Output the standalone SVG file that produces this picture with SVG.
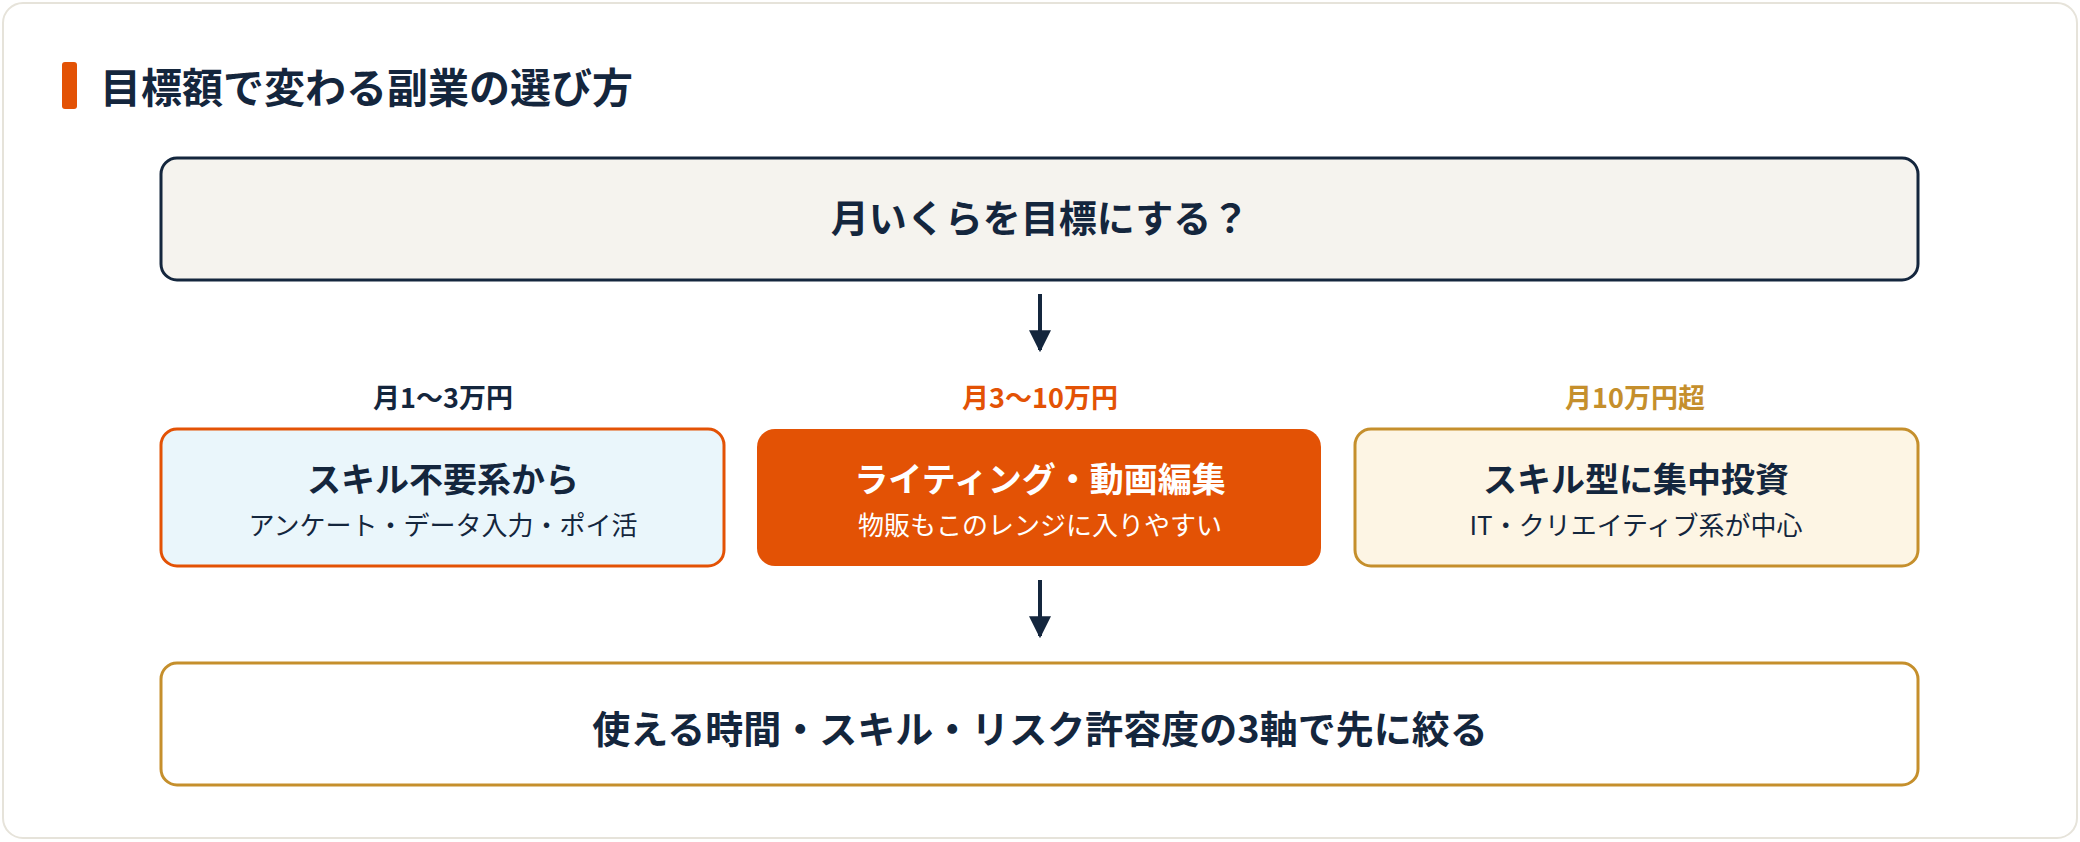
<svg xmlns="http://www.w3.org/2000/svg" width="2080" height="842" viewBox="0 0 2080 842">
<style>
text{font-family:"Noto Sans CJK JP","Noto Sans",sans-serif;text-anchor:middle}
.h{font-weight:700;fill:#14263d}
.t{font-size:38px;font-weight:700;fill:#14263d}
.b{font-size:34px;font-weight:700;fill:#14263d}
.s{font-size:26px;fill:#14263d}
.l{font-size:27px;font-weight:700}
.ln{stroke:#14263d;stroke-width:4;fill:none}
</style>
<defs><marker id="a" viewBox="0 0 10 10" refX="9" refY="5" markerWidth="22" markerHeight="26" markerUnits="userSpaceOnUse" orient="auto"><path d="M0,0L10,5L0,10z" fill="#14263d"/></marker></defs>
<rect x="3" y="3" width="2074" height="835" rx="20" fill="#fff" stroke="#e6e3da" stroke-width="2"/>
<g id="title"><rect x="62" y="62" width="15" height="47" rx="3" fill="#e35205"/><text x="100" y="103" class="h" font-size="41" style="text-anchor:start">目標額で変わる副業の選び方</text></g>
<g id="q"><rect x="161" y="158" width="1757" height="122" rx="16" fill="#f5f3ee" stroke="#14263d" stroke-width="3"/><text x="1040" y="232" class="t">月いくらを目標にする？</text></g>
<g id="labels"><text x="443" y="408" class="l" fill="#14263d">月1〜3万円</text><text x="1040" y="408" class="l" fill="#e35205">月3〜10万円</text><text x="1635" y="408" class="l" fill="#c58f2c">月10万円超</text></g>
<g id="n1"><rect x="161" y="429" width="563" height="137" rx="16" fill="#eaf6fb" stroke="#e35205" stroke-width="3"/><text x="443" y="492" class="b">スキル不要系から</text><text x="443" y="535" class="s">アンケート・データ入力・ポイ活</text></g>
<g id="n2"><rect x="757" y="429" width="564" height="137" rx="18" fill="#e35205"/><text x="1040" y="492" class="b" style="fill:#fff">ライティング・動画編集</text><text x="1040" y="535" class="s" style="fill:#fff">物販もこのレンジに入りやすい</text></g>
<g id="n3"><rect x="1355" y="429" width="563" height="137" rx="16" fill="#fdf5e4" stroke="#c58f2c" stroke-width="3"/><text x="1636" y="492" class="b">スキル型に集中投資</text><text x="1636" y="535" class="s">IT・クリエイティブ系が中心</text></g>
<g id="bottom"><rect x="161" y="663" width="1757" height="122" rx="16" fill="#fff" stroke="#c58f2c" stroke-width="3"/><text x="1040" y="743" class="t">使える時間・スキル・リスク許容度の3軸で先に絞る</text></g>
<g id="connectors"><line x1="1040" y1="294" x2="1040" y2="350" class="ln" marker-end="url(#a)"/><line x1="1040" y1="580" x2="1040" y2="636" class="ln" marker-end="url(#a)"/></g>
</svg>
